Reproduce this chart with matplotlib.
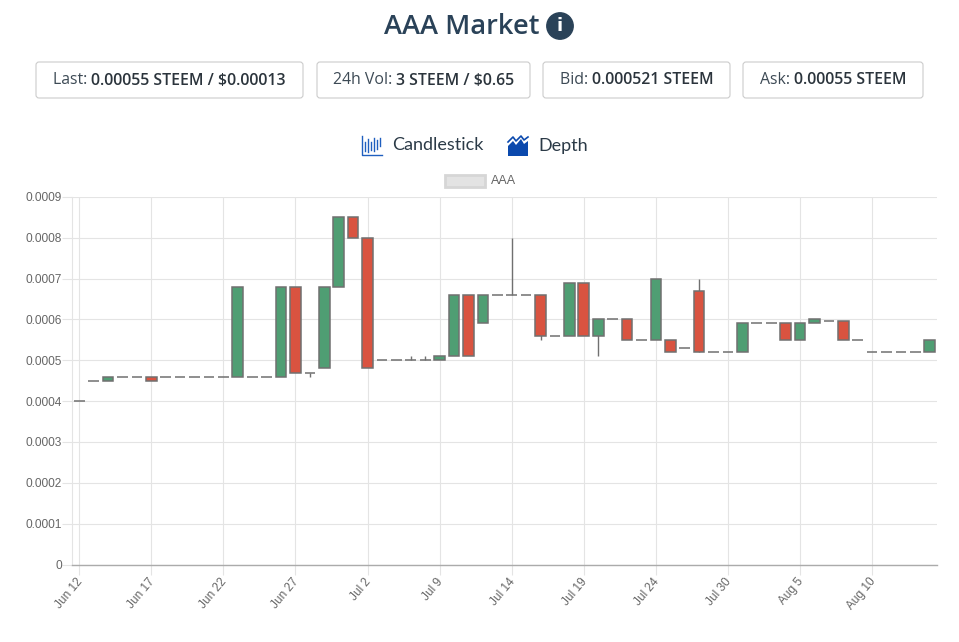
"""
AAA market candlestick chart, with the page header drawn above it.
"""

import matplotlib

matplotlib.use("Agg")
import matplotlib.pyplot as plt
import numpy as np
from matplotlib.patches import Circle, FancyBboxPatch, Polygon, Rectangle
from matplotlib.transforms import ScaledTranslation

# one value per daily candle
opens = [
    0.0004, 0.00045, 0.00045, 0.00046, 0.00046, 0.00046, 0.00046, 0.00046, 0.00046, 0.00046,
    0.00046, 0.00046, 0.00046, 0.00046, 0.00046, 0.00068, 0.00047, 0.00048, 0.00068, 0.00085,
    0.0008, 0.0005, 0.0005, 0.0005, 0.0005, 0.0005, 0.00051, 0.00066, 0.00059, 0.00066,
    0.00066, 0.00066, 0.00066, 0.00056, 0.00056, 0.00069, 0.00056, 0.0006, 0.0006, 0.00055,
    0.00055, 0.00055, 0.00053, 0.00067, 0.00052, 0.00052, 0.00052, 0.00059, 0.00059, 0.00059,
    0.00055, 0.00059, 0.000595, 0.000595, 0.00055, 0.00052, 0.00052, 0.00052, 0.00052, 0.00052,
]
closes = [
    0.0004, 0.00045, 0.00046, 0.00046, 0.00046, 0.00045, 0.00046, 0.00046, 0.00046, 0.00046,
    0.00046, 0.00068, 0.00046, 0.00046, 0.00068, 0.00047, 0.00047, 0.00068, 0.00085, 0.0008,
    0.00048, 0.0005, 0.0005, 0.0005, 0.0005, 0.00051, 0.00066, 0.00051, 0.00066, 0.00066,
    0.00066, 0.00066, 0.00056, 0.00056, 0.00069, 0.00056, 0.0006, 0.0006, 0.00055, 0.00055,
    0.0007, 0.00052, 0.00053, 0.00052, 0.00052, 0.00052, 0.00059, 0.00059, 0.00059, 0.00055,
    0.00059, 0.0006, 0.000595, 0.00055, 0.00055, 0.00052, 0.00052, 0.00052, 0.00052, 0.00055,
]
# candles whose wick leaves the body: index -> (low, high)
wicks = {
    16: (0.00046, 0.00047),
    23: (0.0005, 0.00051),
    24: (0.0005, 0.00051),
    30: (0.00066, 0.0008),
    32: (0.00055, 0.00066),
    36: (0.00051, 0.0006),
    43: (0.00052, 0.0007),
}
tick_labels = [
    "Jun 12", "Jun 17", "Jun 22", "Jun 27", "Jul 2", "Jul 9",
    "Jul 14", "Jul 19", "Jul 24", "Jul 30", "Aug 5", "Aug 10",
]
y_ticks = [0, 0.0001, 0.0002, 0.0003, 0.0004, 0.0005, 0.0006, 0.0007, 0.0008, 0.0009]
y_labels = ["0", "0.0001", "0.0002", "0.0003", "0.0004", "0.0005", "0.0006", "0.0007", "0.0008", "0.0009"]

# header boxes: regular part, bold part, left, right
stat_boxes = [
    ("Last: ", "0.00055 STEEM / $0.00013", 36, 303),
    ("24h Vol: ", "3 STEEM / $0.65", 317, 530),
    ("Bid: ", "0.000521 STEEM", 543, 730),
    ("Ask: ", "0.00055 STEEM", 743, 923),
]

W, H = 959, 642
GREEN = "#4f9e73"
RED = "#d95340"
EDGE = "#707070"
GRID = "#e4e4e4"
LABEL = "#666666"
NAVY = "#2a4258"
CHART_FONT = "Liberation Sans"
HEADER_FONT = "Open Sans"

fig = plt.figure(figsize=(W / 100, H / 100), dpi=100, facecolor="white")

# chart axes, placed to the pixel
left, right, top, bottom = 72.4, 937, 196.8, 564.6
ax = fig.add_axes([left / W, 1 - bottom / H, (right - left) / W, (bottom - top) / H])

opens = np.array(opens)
closes = np.array(closes)
x = np.arange(len(opens))
colors = [GREEN if c > o else RED for o, c in zip(opens, closes)]

ax.bar(x, np.abs(closes - opens), bottom=np.minimum(opens, closes), width=0.74,
       color=colors, edgecolor=EDGE, linewidth=1.1, zorder=3)
for i, (low, high) in wicks.items():
    ax.vlines(i, low, high, color=EDGE, linewidth=1, zorder=2)

ax.set_xlim(-0.47, 59.5)
ax.set_ylim(0, 0.0009)
ax.set_xticks(x[::5])
ax.set_xticklabels(tick_labels, rotation=50, ha="right", rotation_mode="anchor",
                   fontsize=8.6, family=CHART_FONT, color=LABEL)
ax.set_yticks(y_ticks)
ax.set_yticklabels(y_labels, fontsize=8.6, family=CHART_FONT, color=LABEL)
ax.tick_params(axis="both", color=GRID, length=7, width=0.8)
ax.tick_params(axis="x", pad=1)
ax.tick_params(axis="y", pad=0.3)
# nudge the rotated labels left, has to come after tick_params which resets the transform
nudge = ScaledTranslation(-3.5 / 100, 0, fig.dpi_scale_trans)
for lab in ax.get_xticklabels():
    lab.set_transform(lab.get_transform() + nudge)
ax.grid(True, color=GRID, linewidth=0.8, zorder=0)
ax.set_axisbelow(True)
for side in ["top", "right"]:
    ax.spines[side].set_visible(False)
ax.spines["left"].set_color(GRID)
ax.spines["left"].set_linewidth(0.8)
ax.spines["bottom"].set_color("#ababab")
ax.spines["bottom"].set_linewidth(1)

# overlay in pixel coordinates for the page header
page = fig.add_axes([0, 0, 1, 1], zorder=5)
page.set_xlim(0, W)
page.set_ylim(H, 0)
page.axis("off")
page.patch.set_alpha(0)

renderer = fig.canvas.get_renderer()


def text_width(txt):
    return txt.get_window_extent(renderer).width


page.text(462, 27, "AAA Market", ha="center", va="center", fontsize=19.6,
          family=HEADER_FONT, weight=600, color=NAVY)
page.add_patch(Circle((560, 26), 13.2, color=NAVY))
page.text(560, 26, "i", ha="center", va="center", fontsize=13, family="DejaVu Sans",
          weight="bold", color="white")

for regular, bold, x0, x1 in stat_boxes:
    page.add_patch(FancyBboxPatch((x0, 62), x1 - x0, 36, boxstyle="round,pad=0,rounding_size=3",
                                  facecolor="white", edgecolor="#cccccc", linewidth=0.8))
    a = page.text(0, 80.5, regular, va="center", fontsize=11.4, family=HEADER_FONT, color="#3d4a55")
    b = page.text(0, 80.5, bold, va="center", fontsize=11.4, family=HEADER_FONT, weight=600,
                  color="#2b343c")
    wa, wb = text_width(a), text_width(b)
    start = (x0 + x1) / 2 - (wa + wb) / 2
    a.set_x(start)
    b.set_x(start + wa)

# candlestick icon
page.plot([362, 362, 382], [136, 155, 155], color="#1f5fbf", linewidth=1)
for px, y0, y1 in [(365, 142, 151), (368, 139, 152), (371, 142, 150), (374, 138, 151),
                   (377, 140, 149), (380, 138, 146)]:
    page.plot([px, px], [y0, y1], color="#1f5fbf", linewidth=1)
page.text(392, 145.5, "Candlestick", va="center", fontsize=13, family="Lato", color="#2b3a47")

# depth icon
page.add_patch(Polygon([(508, 146), (513, 141), (516, 145), (521, 139), (524, 144), (528, 141),
                        (528, 156), (508, 156)], closed=True, facecolor="#0b49ad", edgecolor="none"))
page.plot([508, 513, 516, 521, 524, 528], [142, 137, 141, 136, 140, 137], color="#0b49ad", linewidth=1.2)
page.text(538, 145.5, "Depth", va="center", fontsize=13, family="Lato", color="#2b3a47")

# chart legend
page.add_patch(Rectangle((445, 175), 40, 12, facecolor="#e3e3e3", edgecolor="#d6d6d6", linewidth=2))
page.text(491, 181, "AAA", va="center", fontsize=9, family=CHART_FONT, color=LABEL)

fig.savefig("out.png", dpi=100, facecolor="white")
